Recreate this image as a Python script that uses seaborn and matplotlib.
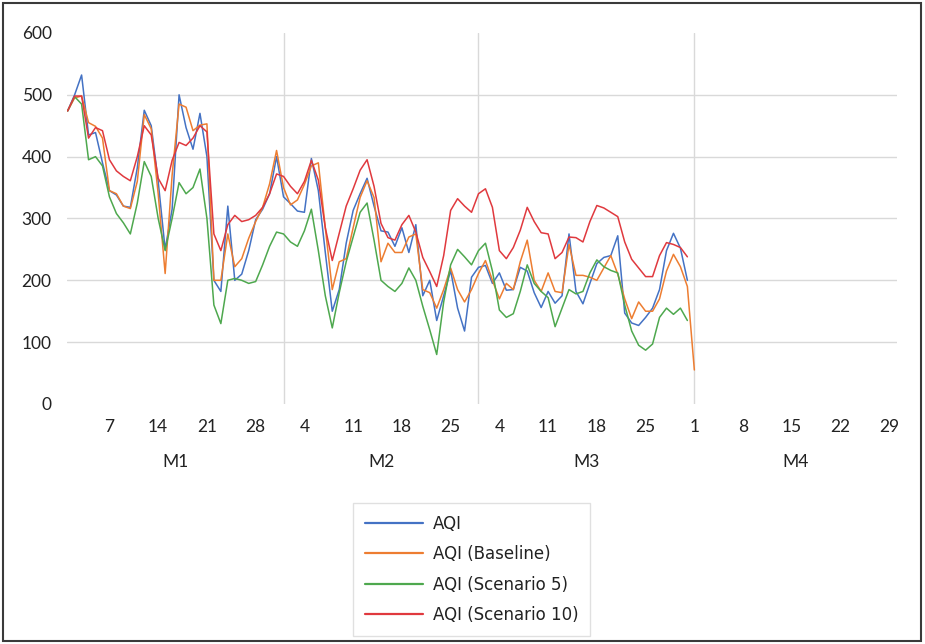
import numpy as np
import pandas as pd
import matplotlib
matplotlib.use('Agg')
import matplotlib.pyplot as plt
import matplotlib.patches as patches
import matplotlib.transforms as mtransforms
import seaborn as sns

# Daily AQI values from 1 Jan (day 0); x axis runs over four months
aqi = [474, 500, 532, 435, 439, 390, 345, 338, 320, 318,
       382, 475, 450, 360, 250, 315, 500, 447, 412, 470,
       400, 200, 182, 320, 200, 210, 248, 298, 315, 340,
       400, 335, 324, 312, 310, 397, 345, 245, 150, 185,
       260, 313, 340, 365, 320, 280, 278, 255, 285, 245,
       290, 175, 200, 135, 175, 216, 155, 118, 205, 221,
       224, 195, 212, 184, 185, 221, 215, 180, 156, 182,
       163, 175, 275, 182, 162, 195, 227, 237, 240, 272,
       147, 131, 127, 140, 155, 185, 248, 276, 252, 200]
aqi_baseline = [474, 495, 498, 455, 449, 430, 345, 340, 320, 316,
                360, 468, 445, 340, 211, 370, 485, 480, 442, 451,
                453, 200, 200, 275, 222, 235, 268, 295, 318, 356,
                410, 350, 322, 330, 355, 385, 390, 285, 185, 230,
                235, 285, 334, 361, 334, 230, 260, 245, 245, 270,
                275, 185, 180, 155, 185, 220, 185, 165, 185, 211,
                232, 200, 170, 195, 185, 230, 265, 200, 182, 212,
                182, 180, 258, 208, 208, 205, 200, 220, 240, 210,
                170, 138, 165, 150, 150, 170, 215, 242, 222, 190,
                55]
aqi_s5 = [474, 497, 485, 395, 400, 385, 335, 308, 293, 275,
          325, 392, 368, 300, 248, 300, 358, 340, 350, 380,
          300, 160, 130, 200, 203, 200, 195, 198, 225, 255,
          278, 275, 262, 255, 280, 315, 248, 175, 123, 180,
          230, 270, 310, 325, 265, 200, 190, 182, 195, 220,
          200, 158, 120, 80, 165, 225, 250, 238, 225, 248,
          260, 215, 152, 140, 146, 182, 225, 195, 182, 172,
          125, 155, 185, 178, 182, 212, 233, 222, 216, 212,
          160, 118, 95, 87, 97, 140, 155, 145, 155, 135]
aqi_s10 = [474, 498, 498, 430, 447, 442, 395, 377, 368, 361,
           400, 450, 435, 365, 345, 394, 423, 418, 430, 450,
           440, 275, 248, 290, 305, 295, 298, 305, 318, 340,
           372, 368, 352, 340, 360, 394, 362, 285, 232, 276,
           320, 348, 378, 395, 352, 292, 269, 265, 290, 305,
           278, 237, 214, 190, 240, 313, 332, 320, 310, 340,
           348, 318, 248, 235, 253, 281, 318, 295, 277, 275,
           235, 245, 270, 269, 262, 295, 321, 317, 310, 303,
           262, 234, 220, 206, 206, 240, 261, 258, 253, 238]

series_names = ['AQI', 'AQI (Baseline)', 'AQI (Scenario 5)', 'AQI (Scenario 10)']
series_values = [aqi, aqi_baseline, aqi_s5, aqi_s10]
colors = ['#4472C4', '#ED7D31', '#4EA84E', '#E0393E']

months = ['M1', 'M2', 'M3', 'M4']
month_days = [31, 28, 31, 30]
tick_days = [7, 14, 21, 28, 4, 11, 18, 25, 4, 11, 18, 25, 1, 8, 15, 22, 29]
tick_month = [0, 0, 0, 0, 1, 1, 1, 1, 2, 2, 2, 2, 3, 3, 3, 3, 3]

rows = []
for name, vals in zip(series_names, series_values):
    for i, v in enumerate(vals):
        rows.append({'day': i, 'aqi': v, 'series': name})
df = pd.DataFrame(rows)

sns.set_theme(style='white')
plt.rcParams['font.family'] = ['Lato', 'DejaVu Sans']

fig = plt.figure(figsize=(9.25, 6.44), dpi=100)
ax = fig.add_axes([0.0724, 0.3727, 0.8973, 0.5761])

sns.lineplot(data=df, x='day', y='aqi', hue='series', hue_order=series_names,
             palette=colors, linewidth=1.1, ax=ax, legend=False)

month_start = np.concatenate([[0], np.cumsum(month_days)])
total_days = month_start[-1]

ax.set_xlim(-0.1, total_days - 1 + 0.1)
ax.set_ylim(0, 600)
ax.set_yticks(np.arange(0, 601, 100))
ax.grid(axis='y', color='#D9D9D9', linewidth=1)
ygl = ax.get_ygridlines()
ygl[0].set_visible(False)
ygl[-1].set_visible(False)
for b in month_start[1:4]:
    ax.axvline(b, color='#D9D9D9', linewidth=1, zorder=0)

tick_pos = [month_start[m] + d - 1 for d, m in zip(tick_days, tick_month)]
ax.set_xticks(tick_pos)
ax.set_xticklabels([str(d) for d in tick_days])
ax.tick_params(axis='x', length=0, pad=11, labelsize=12.5, colors='#222222')
ax.tick_params(axis='y', length=0, pad=11, labelsize=12.5, colors='#222222')
ax.set_xlabel('')
ax.set_ylabel('')
for s in ax.spines.values():
    s.set_visible(False)

trans = mtransforms.blended_transform_factory(ax.transData, ax.transAxes)
for i, m in enumerate(months):
    if i < 3:
        mid = (month_start[i] + month_start[i + 1]) / 2
    else:
        mid = (month_start[i] + total_days - 1) / 2
    ax.text(mid, -0.156, m, transform=trans, ha='center', va='center',
            fontsize=12.5, color='#222222')

handles = [plt.Line2D([], [], color=c, linewidth=1.6) for c in colors]
leg = fig.legend(handles, series_names, loc='upper left',
                 bbox_to_anchor=(0.3816, 0.219), frameon=True, fancybox=False,
                 prop={'family': 'DejaVu Sans', 'size': 12},
                 handlelength=3.5, handletextpad=0.6,
                 labelspacing=0.75, borderpad=0.7, borderaxespad=0)
leg.get_frame().set_edgecolor('#D9D9D9')
leg.get_frame().set_linewidth(1)
for t in leg.get_texts():
    t.set_color('#222222')

fig.patches.append(patches.Rectangle((0.003, 0.004), 0.993, 0.992,
                                     transform=fig.transFigure, fill=False,
                                     edgecolor='#3A3A3A', linewidth=1.5))

fig.savefig('out.png', dpi=100)
